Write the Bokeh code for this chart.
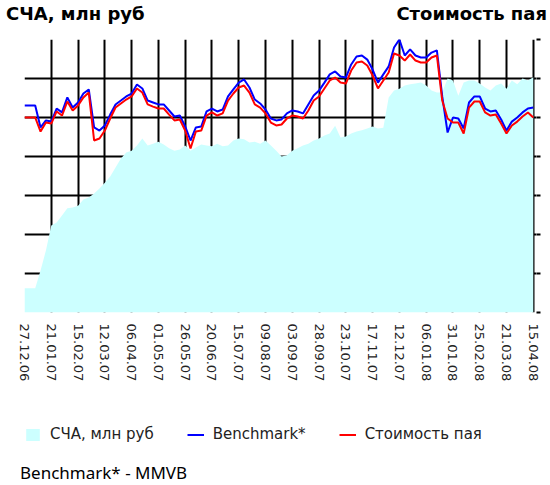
import pandas as pd
from bokeh.plotting import figure
from bokeh.layouts import column
from bokeh.models import (Range1d, LinearAxis, FixedTicker, Legend, LegendItem, Div,
                          DatetimeTickFormatter, CustomJSTickFormatter, ColumnDataSource)
from bokeh.embed import file_html
from bokeh.resources import INLINE

# ---------------- data ----------------
start_date = "2006-12-27"      # first observation
step_days = 5                  # sampling interval of the readings
end_date = "2008-04-18"

# СЧА, млн руб (left axis)
nav_mln = [62, 62, 62, 108, 159, 223, 231, 249, 267, 269, 274, 290, 295, 305, 318, 333,
           349, 372, 395, 410, 415, 428, 446, 428, 433, 438, 431, 421, 415, 418, 428, 415,
           423, 431, 428, 426, 433, 426, 428, 441, 446, 444, 436, 438, 433, 441, 428, 415,
           400, 403, 415, 421, 428, 433, 441, 446, 454, 459, 479, 449, 451, 459, 464, 467,
           472, 477, 472, 474, 551, 569, 574, 582, 585, 587, 590, 582, 569, 564, 564, 600,
           595, 556, 590, 595, 595, 587, 577, 569, 582, 587, 574, 595, 585, 600, 595, 603]

# Benchmark* (right axis)
benchmark = [1062, 1062, 1062, 949, 985, 979, 1046, 1026, 1103, 1051, 1077, 1123, 1144, 949,
             933, 959, 1015, 1067, 1087, 1108, 1123, 1169, 1149, 1087, 1077, 1067, 1067, 1036,
             1005, 1010, 954, 882, 949, 954, 1031, 1046, 1031, 1041, 1108, 1144, 1179, 1195,
             1154, 1092, 1072, 1041, 995, 985, 990, 1021, 1036, 1031, 1021, 1067, 1113, 1138,
             1179, 1221, 1236, 1210, 1205, 1272, 1313, 1318, 1297, 1246, 1179, 1221, 1262,
             1359, 1400, 1318, 1349, 1318, 1308, 1308, 1333, 1344, 1108, 923, 1000, 995, 944,
             1077, 1108, 1108, 1046, 1031, 1036, 990, 933, 979, 1000, 1026, 1046, 1051]

# Стоимость пая (right axis)
unit_price = [1000, 1000, 1000, 928, 974, 969, 1031, 1010, 1082, 1036, 1062, 1103, 1128, 882,
              892, 933, 995, 1051, 1072, 1092, 1108, 1149, 1128, 1067, 1056, 1046, 1046, 1015,
              985, 990, 933, 841, 928, 933, 1010, 1026, 1010, 1021, 1087, 1123, 1154, 1164,
              1128, 1067, 1051, 1021, 974, 959, 964, 995, 1010, 1005, 995, 1036, 1087, 1108,
              1149, 1190, 1205, 1179, 1174, 1241, 1282, 1287, 1267, 1215, 1149, 1190, 1231,
              1328, 1318, 1292, 1323, 1292, 1282, 1282, 1308, 1318, 1087, 995, 974, 974, 918,
              1051, 1082, 1082, 1026, 1010, 1015, 969, 918, 959, 979, 1005, 1026, 1000]

tick_labels = ["27.12.06", "21.01.07", "15.02.07", "12.03.07", "06.04.07", "01.05.07",
               "26.05.07", "20.06.07", "15.07.07", "09.08.07", "03.09.07", "28.09.07",
               "23.10.07", "17.11.07", "12.12.07", "06.01.08", "31.01.08", "25.02.08",
               "21.03.08", "15.04.08"]
nav_ticks = [100, 200, 300, 400, 500, 600, 700]
price_ticks = [0, 200, 400, 600, 800, 1000, 1200, 1400]

series_names = ["СЧА, млн руб", "Benchmark*", "Стоимость пая"]
left_title = "СЧА, млн руб"
right_title = "Стоимость пая"
footnote = "Benchmark* - MMVB"

AREA_COLOR = "#ccffff"
BENCH_COLOR = "#0000ff"
PRICE_COLOR = "#ff0000"

# ---------------- build ----------------
dates = pd.date_range(start_date, periods=len(nav_mln), freq=f"{step_days}D")
src = ColumnDataSource(dict(date=dates, nav=nav_mln, bench=benchmark, price=unit_price))


def ms(ts):
    return pd.Timestamp(ts).value / 1e6


tick_ms = [ms(pd.to_datetime(t, format="%d.%m.%y")) for t in tick_labels]

# header with the two axis titles
header = Div(width=550, height=30, margin=0, text=(
    '<div style="position:relative;width:550px;height:30px;font-family:\'DejaVu Sans\';'
    'font-weight:bold;font-size:18px;line-height:18px;color:black;">'
    f'<span style="position:absolute;left:6px;top:5px;white-space:nowrap">{left_title}</span>'
    f'<span style="position:absolute;right:3px;top:5px;white-space:nowrap">{right_title}</span>'
    '</div>'))

# main chart
p = figure(width=550, height=375, output_backend="svg", toolbar_location=None,
           x_axis_type="datetime", y_axis_location=None,
           x_range=Range1d(ms(start_date), ms(end_date)), y_range=Range1d(0, 700),
           min_border_left=24, min_border_right=14, min_border_top=9, min_border_bottom=93)
p.outline_line_color = None
p.background_fill_color = "white"
p.border_fill_color = "white"
p.extra_y_ranges = {"price": Range1d(0, 1400)}

p.ygrid.ticker = FixedTicker(ticks=nav_ticks)
p.grid.grid_line_color = "black"
p.grid.grid_line_width = 2

xa = p.xaxis[0]
xa.ticker = FixedTicker(ticks=tick_ms)
fmt = "%d.%m.%y"
xa.formatter = DatetimeTickFormatter(days=fmt, months=fmt, years=fmt, hours=fmt,
                                     hourmin=fmt, minutes=fmt, minsec=fmt, seconds=fmt,
                                     milliseconds=fmt, microseconds=fmt)
xa.axis_line_color = None
xa.major_tick_line_color = None
xa.major_tick_in = 0
xa.major_tick_out = 0
xa.minor_tick_line_color = None
xa.major_label_orientation = "vertical"
xa.major_label_standoff = 11
xa.major_label_text_font = "DejaVu Sans"
xa.major_label_text_font_size = "13px"
xa.major_label_text_color = "#222222"

ra = LinearAxis(y_range_name="price", ticker=FixedTicker(ticks=price_ticks),
                formatter=CustomJSTickFormatter(code="return ''"))
ra.axis_line_color = None
ra.major_tick_in = 0
ra.major_tick_out = 4
ra.major_tick_line_width = 2
ra.major_tick_line_color = "black"
ra.minor_tick_line_color = None
ra.major_label_standoff = 0
p.add_layout(ra, "right")

p.varea(x="date", y1=0, y2="nav", source=src, fill_color=AREA_COLOR)
p.line(x="date", y="bench", source=src, y_range_name="price",
       line_color=BENCH_COLOR, line_width=2)
p.line(x="date", y="price", source=src, y_range_name="price",
       line_color=PRICE_COLOR, line_width=2)

# legend strip (same glyph styles as the chart)
leg_fig = figure(width=550, height=50, output_backend="svg", toolbar_location=None,
                 x_axis_location=None, y_axis_location=None,
                 min_border_left=24, min_border_right=14, min_border_top=0, min_border_bottom=0,
                 x_range=Range1d(0, 1), y_range=Range1d(0, 1))
leg_fig.outline_line_color = None
leg_fig.grid.visible = False
nan = float("nan")
g_area = leg_fig.varea(x=[nan], y1=[nan], y2=[nan], fill_color=AREA_COLOR)
g_bench = leg_fig.line(x=[nan], y=[nan], line_color=BENCH_COLOR, line_width=2)
g_price = leg_fig.line(x=[nan], y=[nan], line_color=PRICE_COLOR, line_width=2)

legend = Legend(items=[LegendItem(label=series_names[0], renderers=[g_area]),
                       LegendItem(label=series_names[1], renderers=[g_bench]),
                       LegendItem(label=series_names[2], renderers=[g_price])],
                location=(0, 12), orientation="horizontal",
                glyph_width=17, glyph_height=15, label_height=15, label_standoff=9,
                spacing=33, padding=0, margin=0, border_line_color=None,
                background_fill_alpha=0, label_text_font="DejaVu Sans",
                label_text_font_size="15px", label_text_color="#222222")
leg_fig.add_layout(legend)

# footnote
note = Div(width=550, height=30, margin=0, text=(
    '<div style="position:relative;width:550px;height:30px;font-family:\'Noto Sans\';'
    'font-size:17px;line-height:18px;color:black;">'
    f'<span style="position:absolute;left:20px;top:9px;white-space:nowrap">{footnote}</span>'
    '</div>'))

layout = column(header, p, leg_fig, note, spacing=0)
open("out.html", "w").write(file_html(layout, INLINE))
